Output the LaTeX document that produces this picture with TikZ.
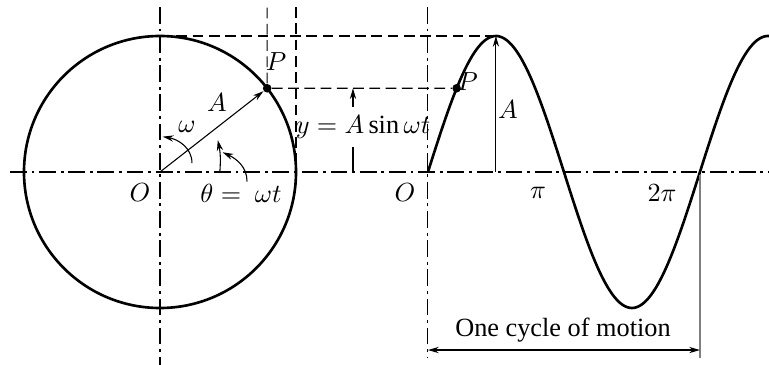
\documentclass[tikz,border=0pt]{standalone}
\usepackage{fontspec}
\setmainfont{Liberation Serif}
\usetikzlibrary{arrows.meta}

\begin{document}
\begin{tikzpicture}[x=2cm, y=2cm, font=\fontsize{11}{13}\selectfont,
    heavy/.style={line width=1.1pt},
    guide/.style={line width=0.45pt, dash pattern=on 4.5pt off 2.3pt},
    axisline/.style={line width=0.45pt, dash pattern=on 7pt off 2pt on 1.2pt off 2pt},
    dim/.style={line width=0.45pt, -{Stealth[length=4.5pt,width=2.6pt]}},
    dot/.style={circle, fill, inner sep=0pt, minimum size=3.6pt}]
  \useasboundingbox (-1.1765,-1.4191) rectangle (4.4779,1.2647);
  % axes
  \coordinate (O) at (0,0);
  \coordinate (S) at (1.97,0);
  \coordinate (axl) at (-1.103,0);
  \coordinate (axr) at (4.478,0);
  \draw[axisline] (axl) -- (axr);
  \draw[axisline] (0,1.213) -- (0,-1.419);
  \draw[axisline] (1.97,1.213) -- (1.97,-1.368);
  % reference circle and point P
  \draw[heavy] (O) circle (1);
  \node[dot] (P) at (38:1) {};
  \node (Pc) at (0.853,0.809) {$P$};
  % sine curve and its point P
  \draw[heavy] plot[domain=0:1.256, samples=140] ({1.97+2*\x},{sin(360*\x)});
  \node[dot] (Q) at (2.1811,0.6157) {};
  \node (Ps) at (2.262,0.662) {$P$};
  % projection guides
  \coordinate (top) at (0,1);
  \coordinate (peak) at (2.47,1);
  \coordinate (peakfoot) at (2.47,0);
  \coordinate (Ptop) at (0.788,1.213);
  \coordinate (tantop) at (1,1.213);
  \coordinate (tan) at (1,0);
  \draw[guide] (top) -- (peak);
  \draw[guide] (P) -- (Q);
  \draw[guide] (P) -- (Ptop);
  \draw[guide] (tantop) -- (tan);
  % radius and angles
  \draw[dim] (O) -- (P);
  \node (labA) at (0.419,0.507) {$A$};
  \node (labw) at (0.199,0.331) {$\omega$};
  \draw[dim] (0.235,0.066) to[out=90, in=-10] (0.02,0.26);
  \draw[dim] (0.44,0) to[bend right=8] (0.425,0.235);
  \draw[dim] (0.64,-0.07) to[out=90, in=-25] (0.46,0.145);
  \node (theta) at (0.596,-0.154) {$\theta =\ \omega t$};
  \node (O1) at (-0.147,-0.154) {$O$};
  % displacement y
  \node (ylab) at (1.493,0.331) {$y = A\sin\omega t$};
  \coordinate (yd) at (1.419,0);
  \draw[dim] (ylab.north -| yd) -- (yd |- P);
  \draw[line width=0.45pt] (ylab.south -| yd) -- (yd);
  % amplitude on the curve
  \draw[dim] (peakfoot) -- (peak);
  \node (labA2) at (2.559,0.456) {$A$};
  % tick labels
  \node (O2) at (1.801,-0.154) {$O$};
  \node (pi) at (2.779,-0.154) {$\pi$};
  \node (tpi) at (3.691,-0.154) {$2\pi$};
  % one cycle
  \coordinate (cycl) at (1.97,-1.309);
  \coordinate (cycr) at (3.97,-1.309);
  \draw[gray, line width=0.6pt] (3.97,-0.02) -- (3.97,-1.368);
  \draw[line width=0.45pt, {Stealth[length=4.5pt,width=2.6pt]}-{Stealth[length=4.5pt,width=2.6pt]}] (cycl) -- (cycr);
  \node (cyc) at (2.963,-1.162) {One cycle of motion};
\end{tikzpicture}
\end{document}
